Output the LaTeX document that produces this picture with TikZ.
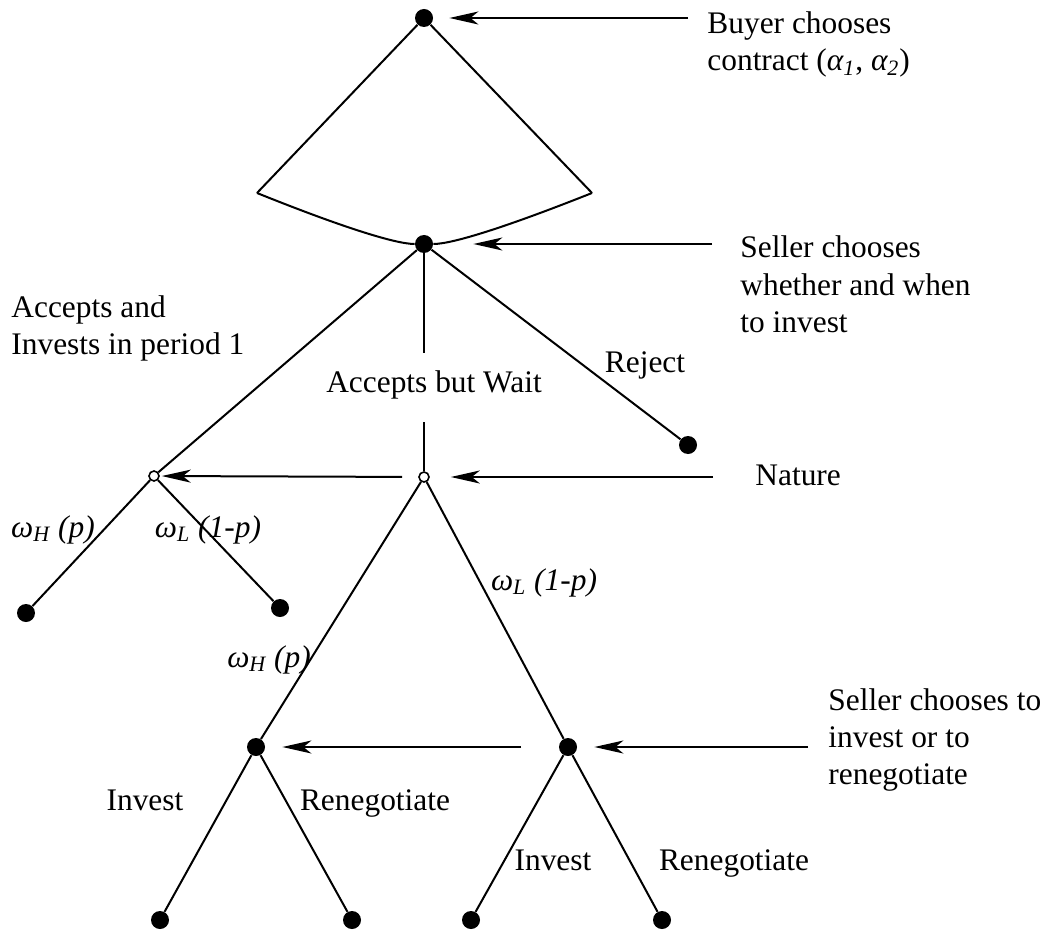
\documentclass[tikz,border=0pt]{standalone}
\usepackage{fontspec}
\setmainfont{Liberation Serif}
\usetikzlibrary{arrows.meta}
\begin{document}
\begin{tikzpicture}[x=0.5pt,y=-0.5pt,
  every node/.style={font=\fontsize{15.7}{18.5}\selectfont},
  dot/.style={circle,fill=black,inner sep=0pt,minimum size=9pt},
  chance/.style={circle,draw=black,fill=white,line width=0.8pt,inner sep=0pt,minimum size=5pt},
  edge/.style={line width=1pt},
  pointer/.style={line width=1pt,-{Stealth[length=14.5pt,width=6.5pt,inset=4pt]}},
  lbl/.style={inner sep=0pt,anchor=base},
  note/.style={inner sep=0pt,align=left,anchor=base west}]
\useasboundingbox (0,0) rectangle (1058,935);

% decision and chance nodes
\node[dot] (root) at (424,18) {};
\coordinate (cl) at (257,193);
\coordinate (cr) at (592,193);
\node[dot] (seller) at (424,244) {};
\node[chance] (nat1) at (154,476) {};
\node[chance] (nat2) at (424,477) {};
\node[dot] (reject) at (688,445) {};
\node[dot] (e1) at (26,613) {};
\node[dot] (e2) at (280,608) {};
\node[dot] (s1) at (256,747) {};
\node[dot] (s2) at (568,747) {};
\node[dot] (t1) at (160,920) {};
\node[dot] (t2) at (352,920) {};
\node[dot] (t3) at (471,920) {};
\node[dot] (t4) at (662,920) {};
\coordinate (waittop) at (424,353);
\coordinate (waitbot) at (424,422);

% contract set
\draw[edge] (cl) -- (root) -- (cr);
\draw[edge] (cl) .. controls (339,226) and (395,244) .. (seller);
\draw[edge] (cr) .. controls (509,226) and (453,244) .. (seller);

% tree edges
\draw[edge] (seller) -- (nat1);
\draw[edge] (seller) -- (waittop);
\draw[edge] (waitbot) -- (nat2);
\draw[edge] (seller) -- (reject);
\draw[edge] (nat1) -- (e1);
\draw[edge] (nat1) -- (e2);
\draw[edge] (nat2) -- (s1);
\draw[edge] (nat2) -- (s2);
\draw[edge] (s1) -- (t1);
\draw[edge] (s1) -- (t2);
\draw[edge] (s2) -- (t3);
\draw[edge] (s2) -- (t4);

% pointers from the annotations
\coordinate (p1) at (688,18);
\coordinate (p2) at (712,244);
\coordinate (p3) at (713,477);
\coordinate (p4) at (521,747);
\coordinate (p5) at (808,747);
\draw[pointer, shorten >=8pt] (p1) -- (root);
\draw[pointer, shorten >=20pt] (p2) -- (seller);
\draw[pointer, shorten <=8pt, shorten >=1pt] (nat2) -- (nat1);
\draw[pointer, shorten >=10.5pt] (p3) -- (nat2);
\draw[pointer, shorten >=8.5pt] (p4) -- (s1);
\draw[pointer, shorten >=8.5pt] (p5) -- (s2);

% annotations (base anchor sits on the last line)
\node[note] (buyer) at (707,71) {Buyer chooses\\contract (\textit{α\textsubscript{1}}, \textit{α\textsubscript{2}})};
\node[note] (sellerA) at (740,332) {Seller chooses\\whether and when\\to invest};
\node[note] (nature) at (755,485) {Nature};
\node[note] (sellerB) at (828,784) {Seller chooses to\\invest or to\\renegotiate};

% action labels
\node[note] (acc) at (11,354) {Accepts and\\Invests in period 1};
\node[lbl] (wait) at (434,392) {Accepts but Wait};
\node[lbl] (rej) at (645,372) {Reject};
\node[lbl] (wh1) at (53,537) {\textit{ω\textsubscript{H} (p)}};
\node[lbl] (wl1) at (208,537) {\textit{ω\textsubscript{L} (1-p)}};
\node[lbl] (wl2) at (544,590) {\textit{ω\textsubscript{L} (1-p)}};
\node[lbl] (wh2) at (269,667) {\textit{ω\textsubscript{H} (p)}};
\node[lbl] (inv1) at (145,810) {Invest};
\node[lbl] (ren1) at (375,810) {Renegotiate};
\node[lbl] (inv2) at (553,870) {Invest};
\node[lbl] (ren2) at (734,870) {Renegotiate};
\end{tikzpicture}
\end{document}
